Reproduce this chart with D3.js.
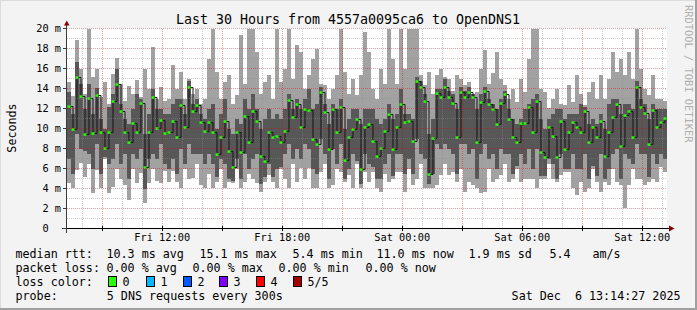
<!DOCTYPE html>
<html><head><meta charset="utf-8">
<script src="https://cdn.jsdelivr.net/npm/d3@7"></script>
<style>
html,body{margin:0;padding:0;background:#f3f3f3;}
svg{display:block;font-family:"DejaVu Sans Mono",monospace;}
text{white-space:pre;}
</style></head><body>
<svg id="c" width="697" height="310"></svg>
<script>
// ---------------- data ----------------
const title = "Last 30 Hours from 4557a0095ca6 to OpenDNS1";
const yAxisLabel = "Seconds";
const watermark = "RRDTOOL / TOBI OETIKER";
const startTime = Date.UTC(2025, 11, 5, 7, 14, 27);
const endTime = Date.UTC(2025, 11, 6, 13, 14, 27);
const stepMinutes = 12;
const yTicks = [0, 2, 4, 6, 8, 10, 12, 14, 16, 18, 20];

// smoke: sorted pings (ms)
const pingMin = [
 4.6,4.1,5.9,6.6,5.2,6.5,3.6,5.9,4.1,7.0,3.6,4.2,6.0,5.0,4.4,2.9,6.0,4.6,5.6,2.6,4.6,6.0,4.8,4.6,5.8,
 4.7,5.8,4.7,4.1,6.0,5.0,5.1,6.5,4.4,4.1,5.5,4.1,4.7,6.0,4.1,4.7,4.6,6.0,4.1,4.7,5.5,5.0,4.6,3.7,4.7,
 5.4,4.7,4.1,6.0,5.0,4.1,6.5,4.7,6.1,5.0,6.1,4.1,4.1,5.7,6.5,4.1,4.4,6.0,5.7,4.7,5.4,4.1,6.5,4.1,5.7,
 4.7,5.7,4.1,3.7,5.5,4.7,5.0,5.7,5.7,3.7,6.0,4.4,5.0,6.5,4.1,4.1,4.1,4.4,5.4,6.5,5.4,5.7,4.7,6.0,3.7,
 4.7,4.4,4.1,3.6,3.7,6.0,4.7,5.0,5.4,6.5,4.7,5.0,6.0,4.7,5.0,5.0,5.0,4.1,5.0,5.0,6.5,5.0,4.7,5.4,5.7,
 5.7,4.1,3.4,4.7,3.7,4.1,6.0,4.7,3.7,4.7,4.4,6.0,4.7,4.4,2.1,4.4,6.0,5.0,5.0,4.4,4.7,5.0,4.7,6.2,5.7
];
const pingLow = [
 7.0,5.5,9.5,8.0,7.8,7.5,6.0,8.5,5.5,7.2,6.5,7.0,8.5,6.5,7.5,5.0,7.5,7.0,8.0,4.0,7.0,7.5,7.0,8.5,6.5,
 6.0,7.0,5.5,8.0,6.5,8.5,7.5,7.5,7.5,6.5,7.5,6.5,5.2,7.0,6.5,5.0,4.8,7.0,5.0,7.5,6.0,7.0,7.5,4.5,5.2,
 6.5,5.2,6.0,6.2,7.5,8.5,7.0,8.0,7.0,8.5,8.0,6.0,5.5,9.0,7.5,5.0,8.0,6.5,8.5,5.0,6.0,7.5,6.8,4.5,7.5,
 6.5,6.2,5.0,5.0,6.5,7.5,5.3,7.5,7.5,5.5,7.0,5.5,9.0,7.5,7.0,4.5,5.5,8.5,8.0,8.5,8.0,7.5,5.5,8.5,8.5,
 7.5,8.0,5.0,7.5,8.5,7.0,7.5,6.0,8.0,7.5,7.5,5.5,6.3,7.5,6.5,8.0,6.0,8.0,5.3,5.3,7.0,6.5,5.0,7.5,6.0,
 6.0,7.5,6.0,6.0,7.5,5.0,6.3,5.3,7.5,5.0,6.0,7.5,8.0,5.0,7.5,7.0,6.5,8.5,7.5,7.5,5.2,7.5,6.5,7.5,7.0
];
const pingMedian = [
 12.2,9.9,15.1,13.2,9.4,13.0,9.5,13.3,9.6,8.0,9.6,12.7,14.4,11.7,9.6,8.6,10.5,9.6,12.5,6.1,9.6,13.1,10.0,10.8,9.5,
 9.6,10.7,9.1,12.3,10.1,14.1,11.7,12.3,10.6,9.7,10.6,9.6,7.4,9.1,10.7,7.7,6.1,9.6,7.6,11.2,8.6,11.7,10.7,7.2,6.7,
 9.6,9.1,9.2,8.6,9.7,12.8,11.1,12.4,10.1,11.9,11.8,8.9,8.4,13.6,11.6,7.9,11.9,9.6,12.1,6.8,9.1,9.9,10.9,5.9,10.1,
 10.4,8.7,7.2,8.0,9.7,11.4,7.9,10.1,12.4,10.6,10.7,8.7,14.7,14.1,12.7,5.4,9.0,13.5,13.1,14.1,13.1,12.5,9.1,13.6,13.1,
 13.6,13.1,8.6,12.6,13.7,12.4,11.9,10.4,12.5,13.4,10.9,9.1,8.6,10.5,10.5,12.1,9.6,12.7,7.6,7.1,10.1,9.2,7.1,10.7,7.9,
 9.6,10.6,10.1,9.6,11.7,8.6,10.1,9.1,10.7,7.2,9.6,11.1,12.4,8.2,11.3,11.7,9.1,14.1,12.1,11.5,8.4,11.8,10.1,10.6,11.0
];
const pingHigh = [
 13.7,11.5,16.7,14.5,12.0,14.5,11.5,14.1,11.0,10.0,12.2,13.5,16.0,12.5,11.0,10.5,12.0,13.5,13.0,9.5,11.5,14.0,12.0,12.0,11.5,
 11.5,12.5,13.0,13.0,11.5,14.8,12.5,13.0,11.5,11.0,12.0,12.5,10.0,11.5,13.0,10.0,9.5,11.0,10.5,13.0,12.0,13.5,12.0,10.0,11.0,
 12.0,11.0,11.5,11.0,12.0,13.5,12.0,13.0,12.0,13.0,14.0,12.0,12.5,14.2,12.5,10.5,12.5,12.0,13.0,10.0,11.0,12.0,12.0,10.5,12.0,
 12.0,12.0,11.0,10.5,11.0,12.5,11.0,11.5,14.0,11.5,11.5,11.0,15.2,14.8,13.5,9.5,11.0,14.0,14.0,15.0,13.8,13.5,12.0,14.2,13.8,
 14.2,13.5,12.0,13.5,14.2,13.0,12.5,12.0,13.0,13.8,12.0,11.0,10.5,11.0,12.0,12.5,13.0,13.5,11.0,10.0,11.0,11.5,12.0,12.0,11.0,
 11.5,11.5,11.5,12.5,12.2,10.5,11.0,10.5,11.5,10.0,12.5,13.0,13.0,11.5,12.5,12.5,12.0,14.8,13.0,12.5,11.0,12.5,12.0,12.0,12.0
];
const pingMax = [
 14.7,13.3,18.9,16.0,13.5,20,15.2,16.0,13.2,14.7,12.5,15.5,17.1,14.5,12.8,14.3,13.5,14.9,13.2,16.0,14.0,18.2,13.0,14.2,12.8,
 13.0,16.4,14.0,15.7,13.0,15.0,13.5,14.0,12.5,13.0,17.0,20,15.7,13.0,14.7,15.4,12.5,13.4,19.4,14.5,20,20,17.7,13.5,14.7,
 15.4,13.0,20,14.7,16.0,20,15.0,18.4,17.7,14.0,15.4,17.0,18.0,14.5,14.4,13.0,14.0,15.4,20,15.7,13.5,15.0,13.4,15.4,19.7,
 17.7,14.0,13.0,16.0,14.5,20,17.0,14.5,20,16.0,20,20,20,15.4,14.4,15.7,13.5,15.4,16.0,15.2,15.0,13.8,15.4,15.0,14.4,
 14.7,13.5,13.7,16.0,17.9,14.5,15.6,17.7,15.0,14.4,13.0,14.0,12.7,15.0,13.7,17.0,20,20,14.0,13.7,12.1,13.0,14.0,12.5,12.4,
 14.4,12.7,15.4,13.5,12.4,13.7,14.7,13.0,15.4,13.0,15.0,17.7,15.7,17.0,15.4,17.7,15.0,20,16.0,14.0,13.4,15.4,13.0,13.0,12.8
];

// legend texts
const legendRow1 = ["median rtt:", "10.3 ms avg", "15.1 ms max", "5.4 ms min", "11.0 ms now", "1.9 ms sd", "5.4", "am/s"];
const legendRow2 = ["packet loss:", "0.00 % avg", "0.00 % max", "0.00 % min", "0.00 % now"];
const lossLabels = ["0", "1", "2", "3", "4", "5/5"];
const lossColors = ["#26ff00", "#00b8ff", "#0059ff", "#7e00ff", "#ff0000", "#a10000"];
const legendRow3Label = "loss color:";
const probeLabel = "probe:";
const probeText = "5 DNS requests every 300s";
const dateText = "Sat Dec  6 13:14:27 2025";

// ---------------- layout ----------------
const W = 697, H = 310;
const svg = d3.select("#c");
const x = d3.scaleUtc().domain([new Date(startTime), new Date(endTime)]).range([67, 667]);
const y = d3.scaleLinear().domain([0, 20]).range([228.5, 28.5]);
const tAt = i => new Date(startTime + i * stepMinutes * 60000);
const n = pingMedian.length;
const idx = d3.range(n);

// background & frame
svg.append("rect").attr("width", W).attr("height", H).attr("fill", "#f3f3f3");
svg.append("rect").attr("x", 0).attr("y", 0).attr("width", W).attr("height", 1).attr("fill", "#dcdcdc");
svg.append("rect").attr("x", 0).attr("y", 0).attr("width", 1).attr("height", H).attr("fill", "#dcdcdc");
svg.append("rect").attr("x", W - 2).attr("y", 0).attr("width", 2).attr("height", H).attr("fill", "#a0a0a0");
svg.append("rect").attr("x", 0).attr("y", H - 2).attr("width", W).attr("height", 2).attr("fill", "#a0a0a0");

// canvas
svg.append("rect").attr("x", 67).attr("y", 28).attr("width", 600).attr("height", 201).attr("fill", "#ffffff");

// smoke
const g = svg.append("g").attr("shape-rendering", "crispEdges");
g.selectAll("rect.light").data(idx).join("rect").attr("class", "light")
  .attr("x", i => x(tAt(i))).attr("width", i => x(tAt(i + 1)) - x(tAt(i)))
  .attr("y", i => y(pingMax[i])).attr("height", i => y(pingMin[i]) - y(pingMax[i]))
  .attr("fill", "#a2a2a2");
g.selectAll("rect.dark").data(idx).join("rect").attr("class", "dark")
  .attr("x", i => x(tAt(i))).attr("width", i => x(tAt(i + 1)) - x(tAt(i)))
  .attr("y", i => y(pingHigh[i])).attr("height", i => y(pingLow[i]) - y(pingHigh[i]))
  .attr("fill", "#575757");

// median step line
const medPts = idx.map(i => [x(tAt(i)) + 2, y(pingMedian[i])]);
svg.append("path").attr("d", d3.line().curve(d3.curveStepAfter)(medPts))
  .attr("fill", "none").attr("stroke", "#151515").attr("stroke-width", 1);
svg.append("g").selectAll("rect").data(idx).join("rect")
  .attr("x", i => x(tAt(i)) + 0.5).attr("width", 3)
  .attr("y", i => y(pingMedian[i]) - 1.2).attr("height", 2.5)
  .attr("fill", lossColors[0]);

// grid (drawn over data)
const grid = svg.append("g").attr("shape-rendering", "crispEdges");
const minorY = d3.range(1, 21).filter(v => v % 2 === 1);
grid.selectAll("line.hmin").data(minorY).join("line")
  .attr("x1", 67).attr("x2", 667).attr("y1", d => y(d)).attr("y2", d => y(d))
  .attr("stroke", "rgba(140,140,140,0.45)").attr("stroke-dasharray", "1,1");
grid.selectAll("line.hmaj").data(yTicks.filter(v => v > 0)).join("line")
  .attr("x1", 67).attr("x2", 667).attr("y1", d => y(d)).attr("y2", d => y(d))
  .attr("stroke", "rgba(225,0,0,0.4)").attr("stroke-dasharray", "1,1");
const hours = d3.utcHour.every(1).range(new Date(startTime), new Date(endTime));
const minorX = hours.filter(d => d.getUTCHours() % 3 !== 0);
const majorX = hours.filter(d => d.getUTCHours() % 3 === 0);
grid.selectAll("line.vmin").data(minorX).join("line")
  .attr("x1", d => Math.round(x(d)) + 0.5).attr("x2", d => Math.round(x(d)) + 0.5).attr("y1", 28.5).attr("y2", 228)
  .attr("stroke", "rgba(140,140,140,0.45)").attr("stroke-dasharray", "1,1");
grid.selectAll("line.vmaj").data(majorX).join("line")
  .attr("x1", d => Math.round(x(d)) + 0.5).attr("x2", d => Math.round(x(d)) + 0.5).attr("y1", 28.5).attr("y2", 228)
  .attr("stroke", "rgba(225,0,0,0.4)").attr("stroke-dasharray", "1,1");

// axes
const ax = svg.append("g").attr("shape-rendering", "crispEdges");
ax.append("line").attr("x1", 62).attr("x2", 670).attr("y1", 228.5).attr("y2", 228.5).attr("stroke", "#000");
ax.append("line").attr("x1", 66.5).attr("x2", 66.5).attr("y1", 233).attr("y2", 24).attr("stroke", "#3a3a3a");
ax.selectAll("line.yt").data(yTicks).join("line")
  .attr("x1", 63).attr("x2", 67).attr("y1", d => y(d)).attr("y2", d => y(d)).attr("stroke", "#3a3a3a");
ax.selectAll("line.xt").data(majorX).join("line")
  .attr("x1", d => Math.round(x(d)) + 0.5).attr("x2", d => Math.round(x(d)) + 0.5)
  .attr("y1", 226).attr("y2", 231).attr("stroke", "#000");
svg.append("path").attr("d", "M64,25.5L69.5,25.5L66.75,20.5Z").attr("fill", "#8b0000");
svg.append("path").attr("d", "M669,225.5L669,231.5L674.5,228.5Z").attr("fill", "#8b0000");

// tick labels
const fmt = d3.utcFormat("%a %H:%M");
const labelTicks = d3.utcHour.every(6).range(new Date(startTime), new Date(endTime));
svg.selectAll("text.xl").data(labelTicks).join("text")
  .attr("x", d => x(d)).attr("y", 241).attr("text-anchor", "middle")
  .attr("font-size", "10.3px").attr("fill", "#000").text(d => fmt(d));
svg.selectAll("text.yl").data(yTicks).join("text")
  .attr("x", 61).attr("y", d => y(d) + 3.8).attr("text-anchor", "end")
  .attr("font-size", "10.3px").attr("fill", "#000").text(d => d === 0 ? "0  " : d + " m");

// title & labels
svg.append("text").attr("x", 348).attr("y", 24).attr("text-anchor", "middle")
  .attr("font-size", "13.3px").attr("fill", "#000").text(title);
svg.append("text").attr("transform", "translate(15.5,128) rotate(-90)").attr("text-anchor", "middle")
  .attr("font-size", "11.7px").attr("fill", "#000").text(yAxisLabel);
svg.append("text").attr("transform", "translate(684.5,5) rotate(90)").attr("text-anchor", "start")
  .attr("font-size", "10.4px").attr("fill", "#b0b0b0").text(watermark);

// legend
const lf = "11.7px";
const row1X = [16, 107, 200, 293, 377, 469, 550, 593];
const row2X = [16, 107, 193, 279, 366];
legendRow1.forEach((s, i) => svg.append("text").attr("x", row1X[i] - 0.5).attr("y", 258).attr("font-size", lf).text(s));
legendRow2.forEach((s, i) => svg.append("text").attr("x", row2X[i] - 0.5).attr("y", 272).attr("font-size", lf).text(s));
svg.append("text").attr("x", 15.5).attr("y", 286).attr("font-size", lf).text(legendRow3Label);
const boxX = [108, 146, 183, 219, 256, 293];
const lblX = [123, 161, 198, 234, 271, 308];
lossLabels.forEach((s, i) => {
  svg.append("rect").attr("x", boxX[i] + 0.5).attr("y", 276.5).attr("width", 8).attr("height", 10)
    .attr("fill", lossColors[i]).attr("stroke", "#000").attr("stroke-width", 1);
  svg.append("text").attr("x", lblX[i] - 0.5).attr("y", 286).attr("font-size", lf).text(s);
});
svg.append("text").attr("x", 15.5).attr("y", 300).attr("font-size", lf).text(probeLabel);
svg.append("text").attr("x", 106.8).attr("y", 300).attr("font-size", lf).text(probeText);
svg.append("text").attr("x", 680.5).attr("y", 300).attr("text-anchor", "end").attr("font-size", lf).text(dateText);
</script>
</body></html>
